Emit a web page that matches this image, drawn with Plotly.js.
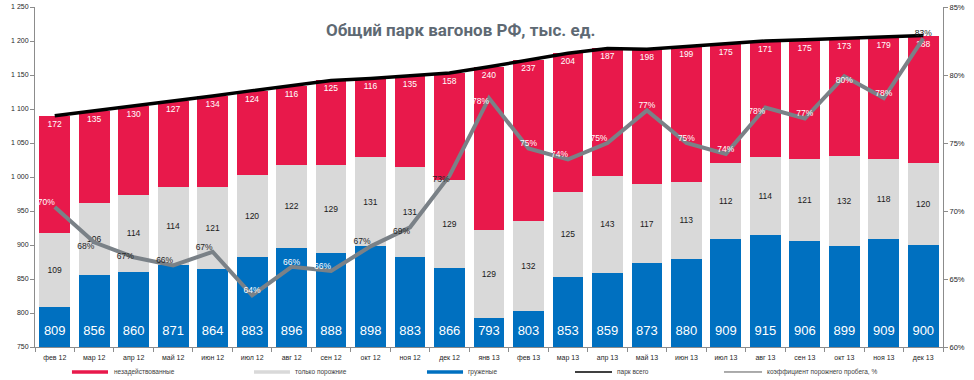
<!DOCTYPE html>
<html>
<head>
<meta charset="utf-8">
<script src="https://cdn.plot.ly/plotly-3.0.1.min.js"></script>
<style>
html,body{margin:0;padding:0;background:#fff;}
#chart{width:974px;height:380px;}
</style>
</head>
<body>
<div id="chart"></div>
<script>
// ---- data ----
const months = ["фев 12","мар 12","апр 12","май 12","июн 12","июл 12","авг 12","сен 12","окт 12","ноя 12","дек 12",
  "янв 13","фев 13","мар 13","апр 13","май 13","июн 13","июл 13","авг 13","сен 13","окт 13","ноя 13","дек 13"];
const loaded = [809,856,860,871,864,883,896,888,898,883,866,793,803,853,859,873,880,909,915,906,899,909,900];
const emptyRun = [109,106,114,114,121,120,122,129,131,131,129,129,132,125,143,117,113,112,114,121,132,118,120];
const idle = [172,135,130,127,134,124,116,125,116,135,158,240,237,204,187,198,199,175,171,175,173,179,188];
const totalFleet = [1090,1097,1104,1112,1119,1127,1134,1142,1145,1149,1153,1162,1172,1182,1189,1188,1192,1196,1200,1202,1204,1206,1208];
const emptyRunRatio = [70.3,67.7,66.6,66.0,67.0,63.8,65.9,65.6,67.4,68.8,72.6,78.3,74.6,73.8,75.0,77.4,75.0,74.2,77.6,76.8,79.9,78.3,82.7];

const leftTickVals = [750,800,850,900,950,1000,1050,1100,1150,1200,1250];
const leftTickText = ["750","800","850","900","950","1 000","1 050","1 100","1 150","1 200","1 250"];
const rightTickVals = [60,65,70,75,80,85];
const rightTickText = ["60%","65%","70%","75%","80%","85%"];

const seriesNames = ["незадействованные","только порожние","груженые","парк всего","коэффициент порожнего пробега, %"];
const titleText = "Общий парк вагонов РФ, тыс. ед.";

// ---- styles ----
const cRed = "#e8194b", cGrey = "#d9d9d9", cBlue = "#0070c0", cLine = "#7a8187";
const pctPos = ["top left","bottom left","middle left","top left","top left","top center","top center","top left",
  "top left","bottom left","bottom left","bottom left","top center","top left","top left","top center","top center",
  "top center","bottom left","top center","bottom center","top center","top center"];
const dark = "#262626", white = "#ffffff";
const pctColor = [white,dark,dark,dark,dark,white,white,white,dark,dark,dark,white,white,white,white,white,white,white,white,white,white,white,dark];
const blueLabelY = 772; // label position inside the visible part of the blue bars

const smallFont = "Liberation Sans, Arial, sans-serif";

const traces = [
  {type:"bar", x:months, y:loaded, name:seriesNames[2], marker:{color:cBlue}, hoverinfo:"y", showlegend:false},
  {type:"bar", x:months, y:emptyRun, name:seriesNames[1], marker:{color:cGrey},
   text:emptyRun.map(String), textposition:"inside", insidetextanchor:"middle", constraintext:"none",
   textfont:{color:"#1a1a1a", size:8.5, family:smallFont}, hoverinfo:"y", showlegend:false},
  {type:"bar", x:months, y:idle, name:seriesNames[0], marker:{color:cRed},
   text:idle.map(String), textposition:"inside", insidetextanchor:"end", constraintext:"none",
   textfont:{color:"#ffffff", size:8.5, family:smallFont}, hoverinfo:"y", showlegend:false},
  {type:"scatter", mode:"text", x:months, y:months.map(()=>blueLabelY), text:loaded.map(String),
   textposition:"middle center", textfont:{color:"#ffffff", size:13, family:smallFont},
   hoverinfo:"skip", showlegend:false},
  {type:"scatter", mode:"lines", x:months, y:totalFleet, name:seriesNames[3],
   line:{color:"#000000", width:3.5}, showlegend:false},
  {type:"scatter", mode:"lines+text", x:months, y:emptyRunRatio, yaxis:"y2", name:seriesNames[4],
   line:{color:cLine, width:4}, texttemplate:"%{y:.0f}%", textposition:pctPos,
   textfont:{color:pctColor, size:8.5, family:smallFont}, cliponaxis:false, showlegend:false}
];

// legend (decoration) in paper coordinates
const legY = -0.0735;
const shapes = [
  {type:"rect", xref:"paper", yref:"paper", x0:0.0407, x1:0.0804, y0:-0.0785, y1:-0.0685, fillcolor:cRed, line:{width:0}},
  {type:"rect", xref:"paper", yref:"paper", x0:0.2412, x1:0.2808, y0:-0.0785, y1:-0.0685, fillcolor:cGrey, line:{width:0}},
  {type:"rect", xref:"paper", yref:"paper", x0:0.4317, x1:0.4714, y0:-0.0785, y1:-0.0685, fillcolor:cBlue, line:{width:0}},
  {type:"line", xref:"paper", yref:"paper", x0:0.5947, x1:0.6355, y0:legY, y1:legY, line:{color:"#000000", width:1.5}},
  {type:"line", xref:"paper", yref:"paper", x0:0.7588, x1:0.8007, y0:legY, y1:legY, line:{color:"#595959", width:1}}
];
const legX = [0.0848,0.2841,0.4747,0.6388,0.8040];
const annotations = seriesNames.map((name,k)=>({xref:"paper", yref:"paper", x:legX[k], y:legY, xanchor:"left", yanchor:"middle",
  text:name, showarrow:false, font:{size:6.5, color:"#404040", family:smallFont}}));

const layout = {
  width:974, height:380,
  margin:{l:35, r:31, t:7, b:33},
  paper_bgcolor:"#ffffff", plot_bgcolor:"#ffffff",
  barmode:"stack", bargap:0.22,
  showlegend:false,
  title:{text:"<b>"+titleText+"</b>", font:{family:"Roboto, sans-serif", size:17, color:"#5e6973"},
    x:0.473, xanchor:"center", xref:"container", y:0.921, yanchor:"middle", yref:"container"},
  xaxis:{type:"category", range:[-0.5, months.length-0.5], automargin:false, tickson:"boundaries", ticks:"outside", ticklen:4, tickcolor:"#8c8c8c",
    showline:true, linecolor:"#8c8c8c", linewidth:1, showgrid:false, zeroline:false, ticklabelstandoff:4,
    tickfont:{size:7, color:"#262626", family:smallFont}},
  yaxis:{range:[750,1250], automargin:false, tickvals:leftTickVals, ticktext:leftTickText, ticks:"outside", ticklen:4,
    tickcolor:"#8c8c8c", showline:true, linecolor:"#8c8c8c", showgrid:false, zeroline:false,
    tickfont:{size:7, color:"#262626", family:smallFont}},
  yaxis2:{range:[60,85], automargin:false, overlaying:"y", side:"right", tickvals:rightTickVals, ticktext:rightTickText,
    ticks:"outside", ticklen:4, tickcolor:"#8c8c8c", showline:true, linecolor:"#8c8c8c",
    showgrid:false, zeroline:false, tickfont:{size:7.5, color:"#262626", family:smallFont}},
  shapes:shapes,
  annotations:annotations
};

Plotly.newPlot("chart", traces, layout, {displayModeBar:false, staticPlot:true});
</script>
</body>
</html>
